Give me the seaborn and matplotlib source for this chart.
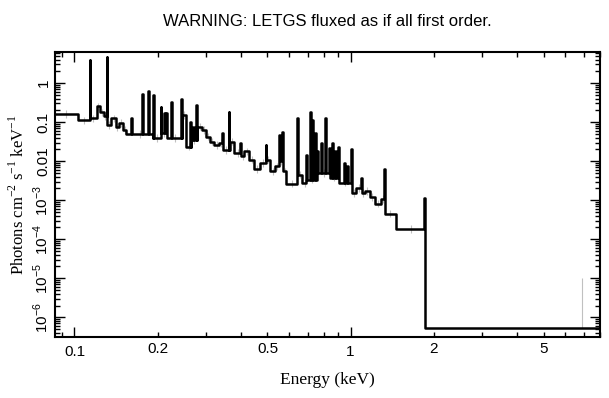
import numpy as np
import matplotlib
matplotlib.use('Agg')
import matplotlib.pyplot as plt
import matplotlib.ticker as mticker
import seaborn as sns

# continuum bins: left edge (keV) and flux level (photons/cm2/s/keV)
cont_lo = [0.085, 0.1026, 0.1139, 0.1205, 0.1234, 0.128, 0.1307, 0.136, 0.141,
           0.145, 0.150, 0.1543, 0.192, 0.2053, 0.2165, 0.2457, 0.254, 0.2645,
           0.2786, 0.2904, 0.3003, 0.3105, 0.321, 0.3347, 0.3445, 0.3655, 0.3795,
           0.400, 0.4124, 0.43, 0.4484, 0.4694, 0.4944, 0.5126, 0.5331, 0.5535,
           0.570, 0.5843, 0.6437, 0.6696, 0.694, 0.7608, 0.8391, 0.9047, 1.006,
           1.049, 1.093, 1.124, 1.172, 1.222, 1.2925, 1.3286, 1.465, 1.862]
cont_flux = [0.162, 0.110, 0.124, 0.252, 0.177, 0.144, 0.085, 0.124, 0.074,
             0.094, 0.063, 0.049, 0.0395, 0.053, 0.0395, 0.153, 0.0237, 0.035,
             0.077, 0.063, 0.0427, 0.0318, 0.0262, 0.029, 0.0195, 0.0318, 0.0164,
             0.0132, 0.0177, 0.0109, 0.0063, 0.0089, 0.0109, 0.00546, 0.0073, 0.010,
             0.00546, 0.00265, 0.0045, 0.00276, 0.00336, 0.005, 0.0038, 0.00281, 0.00154,
             0.00206, 0.00154, 0.00169, 0.00121, 0.00082, 0.00108, 0.000455, 0.000185, 5.3e-7]
e_max = 8.0

# narrow emission lines: centre (keV) and peak flux
line_e = [0.1139, 0.131, 0.161, 0.1763, 0.185, 0.193, 0.206, 0.2122, 0.216,
          0.2247, 0.2443, 0.2637, 0.2693, 0.277, 0.344, 0.363, 0.399, 0.4944,
          0.5535, 0.5667, 0.6437, 0.6939, 0.716, 0.7298, 0.7446, 0.7608, 0.7828,
          0.8114, 0.8391, 0.8626, 0.882, 0.9047, 0.951, 0.973, 1.006, 1.093,
          1.3286, 1.855]
line_peak = [3.86, 4.69, 0.130, 0.515, 0.637, 0.494, 0.244, 0.169, 0.167,
             0.318, 0.384, 0.103, 0.077, 0.27, 0.052, 0.185, 0.029, 0.0262,
             0.047, 0.0546, 0.126, 0.0146, 0.185, 0.114, 0.052, 0.0177, 0.029,
             0.126, 0.0216, 0.029, 0.0177, 0.0237, 0.0089, 0.0073, 0.0204, 0.0037,
             0.00629, 0.00115]

# lone error bar seen in the last bin
err_e = 6.9
err_top = 1.0e-5
err_frac = 1.25

sns.set_theme(style='ticks')
plt.rcParams['font.family'] = ['Liberation Sans', 'DejaVu Sans']
plt.rcParams['mathtext.fontset'] = 'custom'
plt.rcParams['mathtext.rm'] = 'Liberation Serif'
plt.rcParams['mathtext.sf'] = 'Liberation Sans'

# merge continuum and line bins into one stepped curve
half = 0.0012  # half width of a line bin, in log10(E)
edges = np.unique(list(cont_lo) + [e_max]
                  + [e * 10**-half for e in line_e] + [e * 10**half for e in line_e])
mids = np.sqrt(edges[:-1] * edges[1:])
vals = np.array(cont_flux)[np.searchsorted(cont_lo, mids, side='right') - 1]
for e, p in zip(line_e, line_peak):
    vals[(mids > e * 10**-half) & (mids < e * 10**half)] = p
x_step = edges
y_step = np.append(vals, vals[-1])

fig = plt.figure(figsize=(6.09, 3.98), dpi=100)
ax = fig.add_axes([0.0903, 0.153, 0.8947, 0.716])

# faint error bars
cont_hi = list(cont_lo[1:]) + [e_max]
cen = np.sqrt(np.array(cont_lo) * np.array(cont_hi))[:-1]
fl = np.array(cont_flux)[:-1]
ax.vlines(cen, fl / err_frac, fl * err_frac, color='#c0c0c0', lw=0.8, zorder=1)
ax.vlines(err_e, cont_flux[-1], err_top, color='#c0c0c0', lw=0.8, zorder=1)

sns.lineplot(x=x_step, y=y_step, drawstyle='steps-post', estimator=None, sort=False,
             color='black', lw=1.8, ax=ax, zorder=3)

ax.set_xscale('log')
ax.set_yscale('log')
ax.set_xlim(0.085, e_max)
ax.set_ylim(3.1e-7, 6.2)

# x ticks
ax.xaxis.set_major_locator(mticker.FixedLocator([0.1, 1]))
ax.xaxis.set_major_formatter(mticker.FixedFormatter(['0.1', '1']))
ax.xaxis.set_minor_locator(mticker.LogLocator(base=10, subs=np.arange(2, 10)))
xlab = {0.2: '0.2', 0.5: '0.5', 2: '2', 5: '5'}
ax.xaxis.set_minor_formatter(mticker.FuncFormatter(
    lambda v, p: next((s for k, s in xlab.items() if abs(v - k) < 1e-6 * k), '')))

# y ticks
ydec = [1e-6, 1e-5, 1e-4, 1e-3, 0.01, 0.1, 1]
ylab = [r'10$^{\mathsf{-6}}$', r'10$^{\mathsf{-5}}$', r'10$^{\mathsf{-4}}$',
        r'10$^{\mathsf{-3}}$', '0.01', '0.1', '1']
ax.yaxis.set_major_locator(mticker.FixedLocator(ydec))
ax.yaxis.set_major_formatter(mticker.FixedFormatter(ylab))
ax.yaxis.set_minor_locator(mticker.LogLocator(base=10, subs=np.arange(2, 10), numticks=20))
ax.yaxis.set_minor_formatter(mticker.NullFormatter())

ax.tick_params(which='both', direction='in', top=True, right=True, color='black',
               labelsize=11, labelcolor='black')
ax.tick_params(which='major', length=7, width=1)
ax.tick_params(which='minor', length=3.5, width=1)
ax.tick_params(axis='y', labelrotation=90, pad=3)
ax.tick_params(axis='x', pad=6)
for t in ax.get_yticklabels():
    t.set_va('center')
for s in ax.spines.values():
    s.set_linewidth(1.5)
    s.set_color('black')

ax.set_title('WARNING: LETGS fluxed as if all first order.', fontsize=12, pad=19,
             color='black')
ax.set_xlabel('Energy (keV)', family='Liberation Serif', fontsize=12.5, color='black')
ax.set_ylabel(r'Photons cm$^{-2}$ s$^{-1}$ keV$^{-1}$', family='Liberation Serif',
              fontsize=12, color='black')
ax.xaxis.set_label_coords(0.5, -0.15)
ax.xaxis.label.set_va('center')
ax.yaxis.set_label_coords(-0.068, 0.5)
ax.yaxis.label.set_va('center')

fig.savefig('out.png', dpi=100)
